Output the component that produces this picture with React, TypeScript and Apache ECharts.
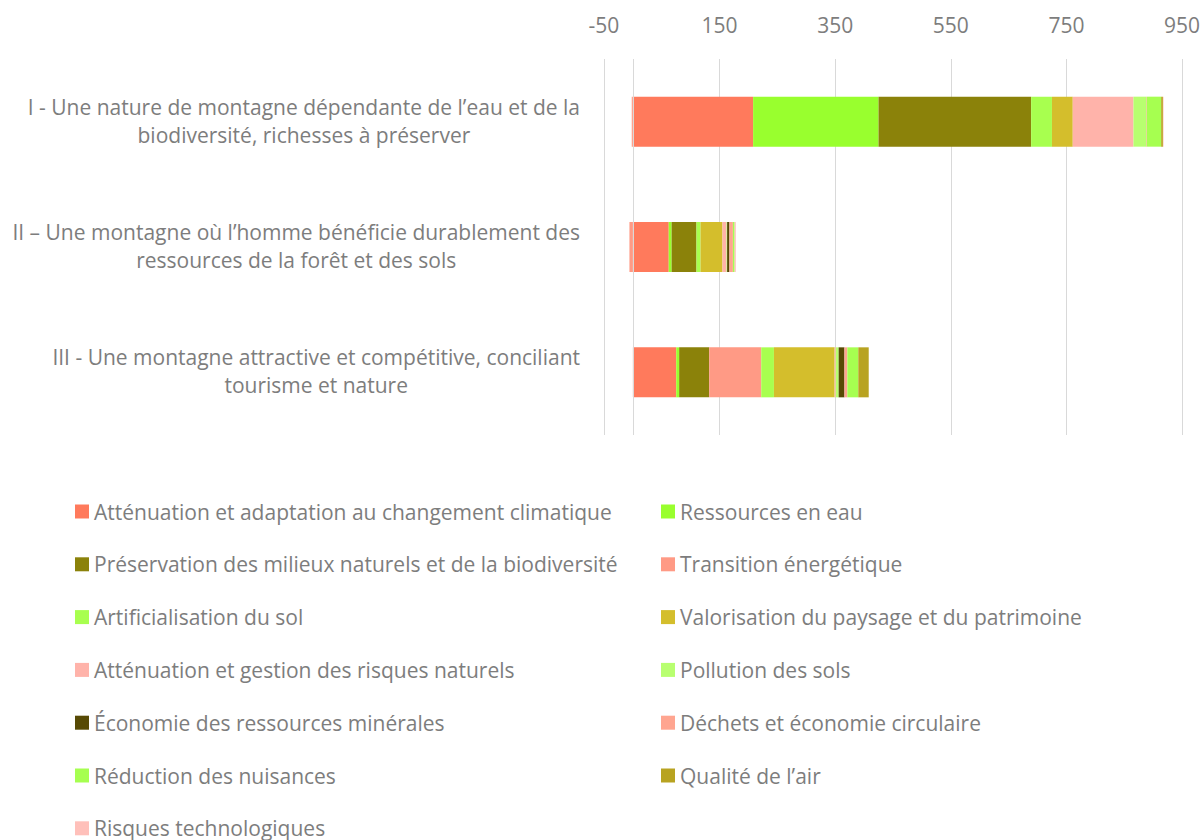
import React, { useEffect, useRef } from "react";
import * as echarts from "echarts";

const categories = [
  "I - Une nature de montagne dépendante de l’eau et de la\nbiodiversité, richesses à préserver",
  "II – Une montagne où l’homme bénéficie durablement des\nressources de la forêt et des sols",
  "III - Une montagne attractive et compétitive, conciliant\ntourisme et nature",
];

const seriesNames = [
  "Atténuation et adaptation au changement climatique",
  "Ressources en eau",
  "Préservation des milieux naturels et de la biodiversité",
  "Transition énergétique",
  "Artificialisation du sol",
  "Valorisation du paysage et du patrimoine",
  "Atténuation et gestion des risques naturels",
  "Pollution des sols",
  "Économie des ressources minérales",
  "Déchets et économie circulaire",
  "Réduction des nuisances",
  "Qualité de l’air",
  "Risques technologiques",
];

const attenuationClimat = [208, 62, 75];
const ressourcesEau = [217, 5, 5];
const preservation = [264, 43, 52];
const transitionEnergetique = [-2, -6, 90];
const artificialisation = [36, 7, 22];
const valorisation = [36, 38, 105];
const risquesNaturels = [105, 7, 2];
const pollutionSols = [22, 1, 5];
const economieMinerales = [0, 4, 10];
const dechets = [1, 6, 5];
const reductionNuisances = [25, 3, 19];
const qualiteAir = [3, 0, 18];
const risquesTechno = [1, 2, 0];

const seriesValues = [
  attenuationClimat,
  ressourcesEau,
  preservation,
  transitionEnergetique,
  artificialisation,
  valorisation,
  risquesNaturels,
  pollutionSols,
  economieMinerales,
  dechets,
  reductionNuisances,
  qualiteAir,
  risquesTechno,
];

const colors = [
  "#FF7A5C",
  "#99FF2E",
  "#8B820A",
  "#FF9A85",
  "#A8FF4F",
  "#D4BE2C",
  "#FFB3AA",
  "#B8FF70",
  "#574A05",
  "#FFA590",
  "#A6FF50",
  "#B8A321",
  "#FFC0BA",
];

const xMin = -50;
const xMax = 950;
const xInterval = 200;

const FONT = "'Open Sans', sans-serif";
const TEXT = "#7d7d7d";
const FS = 21;

export default function App() {
  const ref = useRef<HTMLDivElement>(null);

  useEffect(() => {
    if (!ref.current) return;
    const chart = echarts.init(ref.current, null, { renderer: "svg" });

    const series: any[] = seriesNames.map((name, i) => ({
      name,
      type: "bar",
      stack: "total",
      barWidth: 50,
      data: seriesValues[i],
      itemStyle: { color: colors[i] },
      ...(i === 0
        ? {
            markLine: {
              silent: true,
              symbol: "none",
              label: { show: false },
              lineStyle: { color: "#d9d9d9", type: "solid", width: 1 },
              data: [{ xAxis: 0 }],
            },
          }
        : {}),
    }));

    const leftNames = seriesNames.filter((_, i) => i % 2 === 0);
    const rightNames = seriesNames.filter((_, i) => i % 2 === 1);

    const legendCommon = {
      orient: "vertical",
      icon: "rect",
      itemWidth: 14,
      itemHeight: 14,
      itemGap: 31.8,
      padding: 0,
      height: 600,
      selectedMode: false,
      textStyle: { color: TEXT, fontSize: FS, fontFamily: FONT, lineHeight: 20 },
    };

    chart.setOption({
      animation: false,
      color: colors,
      textStyle: { fontFamily: FONT },
      grid: { left: 604, right: 20, top: 59, bottom: 405, containLabel: false },
      xAxis: {
        type: "value",
        position: "top",
        min: xMin,
        max: xMax,
        interval: xInterval,
        axisLine: { show: false },
        axisTick: { show: false },
        axisLabel: { color: TEXT, fontSize: FS, fontFamily: FONT, margin: 24 },
        splitLine: { show: true, lineStyle: { color: "#d9d9d9", width: 1 } },
      },
      yAxis: {
        type: "category",
        inverse: true,
        data: categories,
        axisLine: { show: false },
        axisTick: { show: false },
        axisLabel: {
          margin: 24,
          formatter: (v: string) =>
            v
              .split("\n")
              .map((l) => "{c|" + l + "}")
              .join("\n"),
          rich: {
            c: {
              align: "center",
              color: TEXT,
              fontSize: FS,
              fontFamily: FONT,
              lineHeight: 28,
              padding: [0, 0, 2, 0],
            },
          },
        },
      },
      legend: [
        { ...legendCommon, data: leftNames, left: 75, top: 501 },
        { ...legendCommon, data: rightNames, left: 661, top: 501 },
      ],
      series,
    });

    return () => chart.dispose();
  }, []);

  return (
    <div
      ref={ref}
      style={{ position: "fixed", left: 0, top: 0, width: 1203, height: 840, background: "#fff" }}
    />
  );
}
